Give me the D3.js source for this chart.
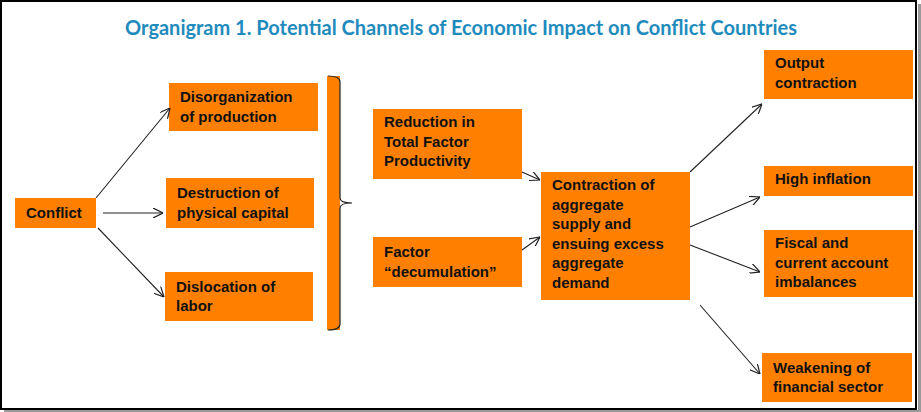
<!DOCTYPE html>
<html><head><meta charset="utf-8">
<script src="https://cdn.jsdelivr.net/npm/d3@7"></script>
<style>body{margin:0;background:#fff}</style>
</head><body>
<svg id="chart" width="921" height="412"></svg>
<script>
// labels of each box, one line per entry
const boxLabels = {
  conflict: ["Conflict"],
  disorg: ["Disorganization", "of production"],
  destr: ["Destruction of", "physical capital"],
  disloc: ["Dislocation of", "labor"],
  tfp: ["Reduction in", "Total Factor", "Productivity"],
  factor: ["Factor", "\u201cdecumulation\u201d"],
  contr: ["Contraction of", "aggregate", "supply and", "ensuing excess", "aggregate", "demand"],
  output: ["Output", "contraction"],
  infl: ["High inflation"],
  fiscal: ["Fiscal and", "current account", "imbalances"],
  fin: ["Weakening of", "financial sector"]
};
// links between boxes
const links = [
  ["conflict", "disorg"], ["conflict", "destr"], ["conflict", "disloc"],
  ["tfp", "contr"], ["factor", "contr"],
  ["contr", "output"], ["contr", "infl"], ["contr", "fiscal"], ["contr", "fin"]
];
const title = "Organigram 1. Potential Channels of Economic Impact on Conflict Countries";

// layout (x0, y0, x1, y1)
const layout = {
  conflict: [15, 198, 96, 228], disorg: [169, 83, 318, 131], destr: [166, 178, 314, 228],
  disloc: [165, 272, 313, 321], tfp: [373, 109, 522, 179], factor: [373, 237, 522, 287],
  contr: [541, 172, 690, 300], output: [764, 50, 913, 99], infl: [764, 166, 913, 196],
  fiscal: [764, 230, 913, 297], fin: [762, 353, 912, 402]
};
const linkPts = [
  [96, 198, 170, 108], [103, 213, 163, 213], [98, 228, 164, 297],
  [522, 172, 540, 180], [522, 250, 540, 237],
  [690, 172, 762, 104], [690, 227, 760, 197], [690, 245, 760, 272], [700, 305, 760, 374]
];

const svg = d3.select("#chart");
svg.append("rect").attr("x", 1).attr("y", 1).attr("width", 915).attr("height", 408)
  .attr("fill", "none").attr("stroke", "#000").attr("stroke-width", 2);
svg.append("rect").attr("x", 918).attr("y", 4).attr("width", 3).attr("height", 408).attr("fill", "#999");
svg.append("rect").attr("x", 4).attr("y", 410).attr("width", 917).attr("height", 2).attr("fill", "#999");

svg.append("text").attr("x", 461).attr("y", 35).attr("text-anchor", "middle")
  .attr("font-family", "Lato, 'Open Sans', sans-serif").attr("font-weight", "bold")
  .attr("font-size", 20).attr("fill", "#1f8bbd").text(title);

svg.append("defs").append("marker").attr("id", "arr")
  .attr("viewBox", "0 0 10 10").attr("refX", 10).attr("refY", 5)
  .attr("markerWidth", 10).attr("markerHeight", 10).attr("markerUnits", "userSpaceOnUse")
  .attr("orient", "auto")
  .append("path").attr("d", "M0,0 L10,5 L0,10").attr("fill", "none").attr("stroke", "#222").attr("stroke-width", 1.2);

const orange = "#ff8000";
const boxes = svg.selectAll("g.box").data(Object.keys(boxLabels)).join("g").attr("class", "box");
boxes.append("rect")
  .attr("x", d => layout[d][0]).attr("y", d => layout[d][1])
  .attr("width", d => layout[d][2] - layout[d][0]).attr("height", d => layout[d][3] - layout[d][1])
  .attr("fill", orange);
boxes.each(function(d) {
  const [x0, y0, , y1] = layout[d];
  const lines = boxLabels[d];
  const lh = 19.5;
  const startY = d === "output" || d === "infl" || d === "fiscal" || d === "contr" || d === "tfp"
    ? y0 + 18 : (y0 + y1) / 2 - (lines.length - 1) * lh / 2 + 5;
  d3.select(this).append("text")
    .attr("font-family", "Arial, 'Liberation Sans', sans-serif").attr("font-weight", "bold")
    .attr("font-size", 15).attr("fill", "#111")
    .selectAll("tspan").data(lines).join("tspan")
    .attr("x", x0 + 11).attr("y", (l, i) => startY + i * lh).text(l => l);
});

// brace
svg.append("rect").attr("x", 327).attr("y", 76).attr("width", 13).attr("height", 254).attr("fill", orange);
svg.append("path")
  .attr("d", "M328,76 Q340,76 340,82 L340,198 Q340,203 352,203 Q340,203 340,208 L340,324 Q340,330 328,330")
  .attr("fill", "none").attr("stroke", "#222").attr("stroke-width", 1.2);

svg.selectAll("line.link").data(linkPts).join("line").attr("class", "link")
  .attr("x1", d => d[0]).attr("y1", d => d[1]).attr("x2", d => d[2]).attr("y2", d => d[3])
  .attr("stroke", "#222").attr("stroke-width", 1.1).attr("marker-end", "url(#arr)");
</script>
</body></html>
